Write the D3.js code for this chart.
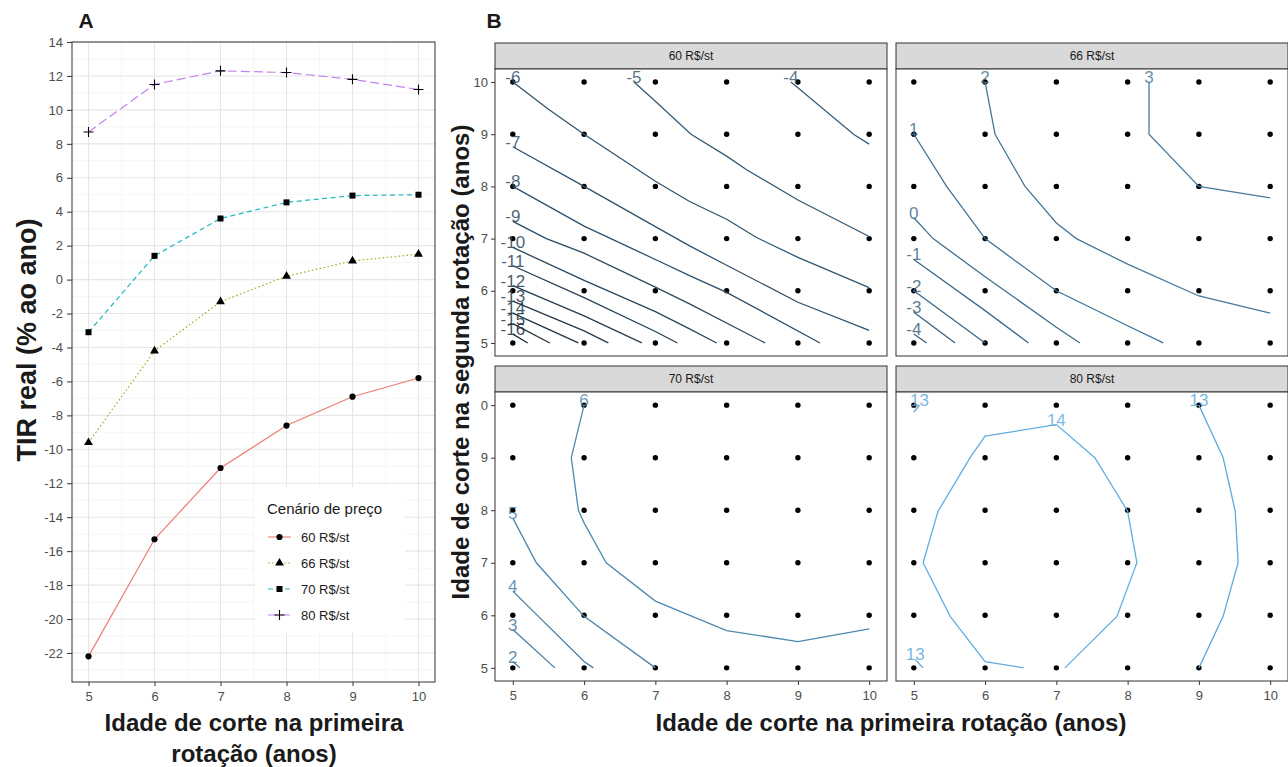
<!DOCTYPE html>
<html>
<head>
<meta charset="utf-8">
<script src="https://cdn.jsdelivr.net/npm/d3@7"></script>
<style>
body { margin: 0; background: #fff; }
svg text { font-family: "Liberation Sans", Arial, sans-serif; }
</style>
</head>
<body>
<svg id="chart" width="1288" height="767"></svg>
<script>
// ---- dados painel A: TIR real (% ao ano) por idade de corte
var ages = [5, 6, 7, 8, 9, 10];
var tir60 = [-22.2, -15.3, -11.1, -8.6, -6.9, -5.8];
var tir66 = [-9.6, -4.2, -1.3, 0.2, 1.1, 1.5];
var tir70 = [-3.1, 1.4, 3.6, 4.55, 4.95, 5.0];
var tir80 = [8.7, 11.5, 12.3, 12.2, 11.8, 11.2];
var scenarios = ["60 R$/st", "66 R$/st", "70 R$/st", "80 R$/st"];
var yTicksA = d3.range(-22, 15, 2);

// ---- dados painel B: grade de idades e isolinhas
var ages1 = [5, 6, 7, 8, 9, 10];
var ages2 = [5, 6, 7, 8, 9, 10];
var contours60 = [
  {level: -4, pts: [[8.9,10],[9,9.89],[9.78,9],[10,8.81]]},
  {level: -5, pts: [[6.7,10],[7,9.63],[7.5,9],[8,8.58],[8.28,8.32],[9,7.74],[10,7.04]]},
  {level: -6, pts: [[5,10],[5.5,9.48],[6,9],[7,8.1],[7.48,7.71],[8,7.37],[8.42,7.02],[9,6.64],[10,6.06]]},
  {level: -7, pts: [[5,8.76],[6,8],[7,7.23],[7.48,6.86],[8,6.49],[9,5.78],[10,5.24]]},
  {level: -8, pts: [[5,8],[6,7.24],[7,6.6],[7.48,6.29],[8,5.97],[9.31,5]]},
  {level: -9, pts: [[5,7.33],[5.47,7],[6,6.72],[7,6.07],[7.48,5.75],[8.54,5]]},
  {level: -10, pts: [[5,6.83],[6,6.2],[7,5.6],[7.48,5.27],[7.86,5]]},
  {level: -11, pts: [[5,6.48],[6,5.87],[7,5.22],[7.31,5]]},
  {level: -12, pts: [[5,6.1],[6,5.52],[6.81,5]]},
  {level: -13, pts: [[5,5.8],[6,5.23],[6.34,5]]},
  {level: -14, pts: [[5,5.57],[5.92,5]]},
  {level: -15, pts: [[5,5.37],[5.52,5]]},
  {level: -16, pts: [[5,5.17],[5.21,5]]}
];
var contours66 = [
  {level: 3, pts: [[8.3,10],[8.3,9],[9,8],[10,7.78]]},
  {level: 2, pts: [[6,10],[6.14,9],[6.56,8],[7,7.3],[7.28,7],[8,6.51],[9,5.9],[10,5.57]]},
  {level: 1, pts: [[5,9],[5.46,8],[6,7],[7,6],[8,5.33],[8.5,5]]},
  {level: 0, pts: [[5,7.4],[5.27,7],[6,6.27],[7,5.3],[7.33,5]]},
  {level: -1, pts: [[5,6.6],[6,5.62],[6.61,5]]},
  {level: -2, pts: [[5,6],[6,5]]},
  {level: -3, pts: [[5,5.59],[5.58,5]]},
  {level: -4, pts: [[5,5.17],[5.18,5]]}
];
var contours70 = [
  {level: 6, pts: [[6,10],[5.82,9],[5.92,8],[6,7.76],[6.31,7],[7,6.27],[8,5.71],[9,5.5],[10,5.74]]},
  {level: 5, pts: [[5,7.85],[5.33,7],[6,5.98],[7,5]]},
  {level: 4, pts: [[5,6.46],[6,5.12],[6.13,5]]},
  {level: 3, pts: [[5,5.73],[5.59,5]]},
  {level: 2, pts: [[5,5.12],[5.1,5]]}
];
var contours80 = [
  {level: 13, pts: [[5.08,10],[5,9.87]]},
  {level: 14, pts: [[7.12,5],[7.85,5.98],[8.13,7],[8,7.98],[7.54,9],[7,9.63],[6,9.41],[5.79,9],[5.34,7.98],[5.13,7],[5.51,5.98],[6,5.12],[6.54,5]]},
  {level: 13, pts: [[9,10],[9.34,9],[9.51,7.98],[9.55,7],[9.34,5.98],[9,5]]},
  {level: 13, pts: [[5.02,5.16],[5.13,5]]}
];
var xLabelsB = ["5", "6", "7", "8", "9", "10"];
var yLabelsTop = ["5", "6", "7", "8", "9", "10"];
var yLabelsBottom = ["5", "6", "7", "8", "9", "0"];

var svg = d3.select("#chart");
var font = "'Liberation Sans', Arial, sans-serif";

// ================= painel A =================
var ax = d3.scaleLinear().domain([4.75, 10.25]).range([72, 435]);
var ay = d3.scaleLinear().domain([-23.71, 14]).range([682, 42]);
var gA = svg.append("g");

gA.append("rect").attr("x", 72).attr("y", 42).attr("width", 363).attr("height", 640).attr("fill", "#fff");

// grade secundaria
gA.selectAll("line.minory").data(d3.range(-23, 14, 2)).enter().append("line")
  .attr("x1", 72).attr("x2", 435).attr("y1", d => ay(d)).attr("y2", d => ay(d))
  .attr("stroke", "#F2F2F2").attr("stroke-width", 0.7);
gA.selectAll("line.minorx").data([5.5, 6.5, 7.5, 8.5, 9.5]).enter().append("line")
  .attr("y1", 42).attr("y2", 682).attr("x1", d => ax(d)).attr("x2", d => ax(d))
  .attr("stroke", "#F2F2F2").attr("stroke-width", 0.7);
// grade principal
gA.selectAll("line.majory").data(yTicksA).enter().append("line")
  .attr("x1", 72).attr("x2", 435).attr("y1", d => ay(d)).attr("y2", d => ay(d))
  .attr("stroke", "#E6E6E6").attr("stroke-width", 1.1);
gA.selectAll("line.majorx").data(ages).enter().append("line")
  .attr("y1", 42).attr("y2", 682).attr("x1", d => ax(d)).attr("x2", d => ax(d))
  .attr("stroke", "#E6E6E6").attr("stroke-width", 1.1);

var series = [tir60, tir66, tir70, tir80];
var colors = ["#EC7C74", "#9DB42A", "#1CB9BE", "#C384F2"];
var dashes = [null, "1.6,2.4", "5,3.5", "9,4"];

function drawShape(g, i, x, y) {
  if (i == 3) {
    g.append("path").attr("d", "M" + (x - 5) + "," + y + "H" + (x + 5) + "M" + x + "," + (y - 5) + "V" + (y + 5))
      .attr("stroke", "#000").attr("stroke-width", 1.1).attr("fill", "none");
  } else {
    var sym = [d3.symbolCircle, d3.symbolTriangle, d3.symbolSquare][i];
    var size = [30, 34, 36][i];
    g.append("path").attr("d", d3.symbol().type(sym).size(size)())
      .attr("transform", "translate(" + x + "," + y + ")").attr("fill", "#000");
  }
}

var lineA = d3.line().x((d, j) => ax(ages[j])).y(d => ay(d));
series.forEach(function (s, i) {
  gA.append("path").datum(s).attr("d", lineA)
    .attr("fill", "none").attr("stroke", colors[i]).attr("stroke-width", 1.2)
    .attr("stroke-dasharray", dashes[i]);
});
series.forEach(function (s, i) {
  s.forEach(function (v, j) { drawShape(gA, i, ax(ages[j]), ay(v)); });
});

// legenda
var leg = gA.append("g");
leg.append("rect").attr("x", 255).attr("y", 487).attr("width", 150).attr("height", 146).attr("fill", "#fff");
leg.append("text").attr("x", 267).attr("y", 514).attr("font-size", 15).attr("fill", "#1A1A1A").text("Cenário de preço");
scenarios.forEach(function (s, i) {
  var yy = 537 + i * 26;
  leg.append("line").attr("x1", 268).attr("x2", 291).attr("y1", yy).attr("y2", yy)
    .attr("stroke", colors[i]).attr("stroke-width", 1.1).attr("stroke-dasharray", dashes[i]);
  drawShape(leg, i, 279.5, yy);
  leg.append("text").attr("x", 301).attr("y", yy + 4.5).attr("font-size", 13).attr("fill", "#1A1A1A").text(s);
});

gA.append("rect").attr("x", 72).attr("y", 42).attr("width", 363).attr("height", 640)
  .attr("fill", "none").attr("stroke", "#333").attr("stroke-width", 1);

var axisLA = gA.append("g").attr("transform", "translate(72,0)")
  .call(d3.axisLeft(ay).tickValues(yTicksA).tickSize(5).tickPadding(4).tickFormat(d => String(d)));
var axisBA = gA.append("g").attr("transform", "translate(0,682)")
  .call(d3.axisBottom(ax).tickValues(ages).tickSize(4).tickPadding(6).tickFormat(d => String(d)));
[axisLA, axisBA].forEach(function (a) {
  a.select(".domain").remove();
  a.selectAll(".tick line").attr("stroke", "#333");
  a.selectAll("text").attr("font-size", 13).attr("fill", "#4D4D4D").attr("font-family", font);
});

gA.append("text").attr("transform", "translate(36,340) rotate(-90)").attr("text-anchor", "middle")
  .attr("font-size", 27).attr("font-weight", "bold").attr("fill", "#1A1A1A").text("TIR real (% ao ano)");
gA.append("text").attr("x", 254).attr("y", 731).attr("text-anchor", "middle")
  .attr("font-size", 24).attr("font-weight", "bold").attr("fill", "#1A1A1A").text("Idade de corte na primeira");
gA.append("text").attr("x", 254).attr("y", 762).attr("text-anchor", "middle")
  .attr("font-size", 24).attr("font-weight", "bold").attr("fill", "#1A1A1A").text("rotação (anos)");
svg.append("text").attr("x", 86).attr("y", 28).attr("text-anchor", "middle")
  .attr("font-size", 21).attr("font-weight", "bold").attr("fill", "#1A1A1A").text("A");

// ================= painel B =================
var levelColor = d3.scaleLinear().domain([-16, 14]).range(["#1C2E3C", "#62AEE0"]).interpolate(d3.interpolateLab);
var facets = [
  {name: "60 R$/st", lines: contours60, x0: 495, top: 43, bottom: 356, col: 0, row: 0},
  {name: "66 R$/st", lines: contours66, x0: 896, top: 43, bottom: 356, col: 1, row: 0},
  {name: "70 R$/st", lines: contours70, x0: 495, top: 366, bottom: 681, col: 0, row: 1},
  {name: "80 R$/st", lines: contours80, x0: 896, top: 366, bottom: 681, col: 1, row: 1}
];
var grid = [];
ages2.forEach(function (b) { ages1.forEach(function (a) { grid.push([a, b]); }); });

facets.forEach(function (f) {
  var g = svg.append("g");
  var w = 392, stripH = 26;
  var pTop = f.top + stripH;
  var xs = d3.scaleLinear().domain([4.75, 10.25]).range([f.x0, f.x0 + w]);
  var ys = d3.scaleLinear().domain([4.75, 10.25]).range([f.bottom, pTop]);

  g.append("rect").attr("x", f.x0).attr("y", f.top).attr("width", w).attr("height", stripH)
    .attr("fill", "#D9D9D9").attr("stroke", "#333").attr("stroke-width", 1);
  g.append("text").attr("x", f.x0 + w / 2).attr("y", f.top + 17).attr("text-anchor", "middle")
    .attr("font-size", 12).attr("fill", "#1A1A1A").text(f.name);
  g.append("rect").attr("x", f.x0).attr("y", pTop).attr("width", w).attr("height", f.bottom - pTop)
    .attr("fill", "#fff").attr("stroke", "#333").attr("stroke-width", 1);

  g.selectAll("circle").data(grid).enter().append("circle")
    .attr("cx", d => xs(d[0])).attr("cy", d => ys(d[1])).attr("r", 2.7).attr("fill", "#000");

  var line = d3.line().x(d => xs(d[0])).y(d => ys(d[1]));
  f.lines.forEach(function (c) {
    var col = levelColor(c.level);
    g.append("path").datum(c.pts).attr("d", line).attr("fill", "none")
      .attr("stroke", col).attr("stroke-width", 1.3);
    var top = c.pts.reduce((m, p) => p[1] > m[1] ? p : m, c.pts[0]);
    g.append("text").attr("x", xs(top[0])).attr("y", ys(top[1]) + 1).attr("text-anchor", "middle")
      .attr("font-size", 17).attr("fill", col).attr("fill-opacity", 0.85).text(String(c.level));
  });

  if (f.col == 0) {
    var labs = f.row == 0 ? yLabelsTop : yLabelsBottom;
    var al = g.append("g").attr("transform", "translate(" + f.x0 + ",0)")
      .call(d3.axisLeft(ys).tickValues(ages2).tickSize(4).tickPadding(3).tickFormat((d, i) => labs[i]));
    al.select(".domain").remove();
    al.selectAll(".tick line").attr("stroke", "#333");
    al.selectAll("text").attr("font-size", 13).attr("fill", "#4D4D4D").attr("font-family", font);
  }
  if (f.row == 1) {
    var ab = g.append("g").attr("transform", "translate(0," + f.bottom + ")")
      .call(d3.axisBottom(xs).tickValues(ages1).tickSize(4).tickPadding(6).tickFormat((d, i) => xLabelsB[i]));
    ab.select(".domain").remove();
    ab.selectAll(".tick line").attr("stroke", "#333");
    ab.selectAll("text").attr("font-size", 13).attr("fill", "#4D4D4D").attr("font-family", font);
  }
});

svg.append("text").attr("transform", "translate(469,362) rotate(-90)").attr("text-anchor", "middle")
  .attr("font-size", 24).attr("font-weight", "bold").attr("fill", "#1A1A1A").text("Idade de corte na segunda rotação (anos)");
svg.append("text").attr("x", 891).attr("y", 731).attr("text-anchor", "middle")
  .attr("font-size", 24).attr("font-weight", "bold").attr("fill", "#1A1A1A").text("Idade de corte na primeira rotação (anos)");
svg.append("text").attr("x", 494).attr("y", 28).attr("text-anchor", "middle")
  .attr("font-size", 21).attr("font-weight", "bold").attr("fill", "#1A1A1A").text("B");
</script>
</body>
</html>
